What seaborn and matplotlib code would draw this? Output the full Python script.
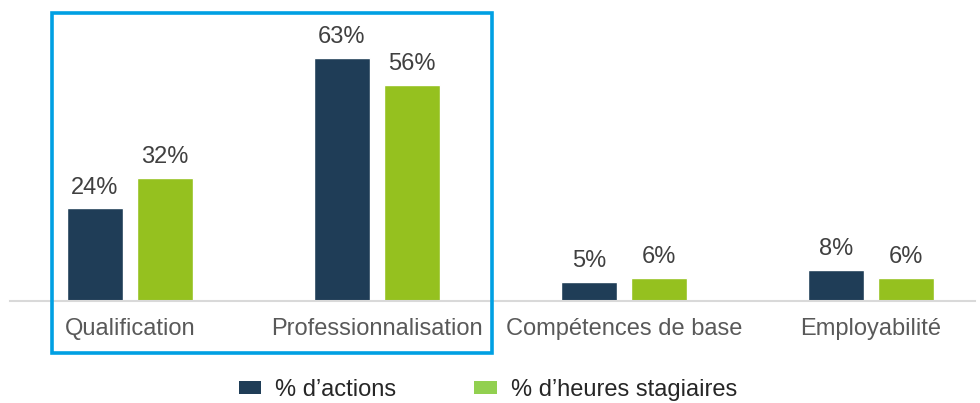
import pandas as pd
import matplotlib.pyplot as plt
import seaborn as sns
from matplotlib.patches import Rectangle, Patch

# Dati del grafico
categorie = ['Qualification', 'Professionnalisation', 'Compétences de base', 'Employabilité']
pct_actions = [24, 63, 5, 8]
pct_heures = [32, 56, 6, 6]
serie = ['% d\u2019actions', '% d\u2019heures stagiaires']

colori_barre = ['#1f3d57', '#95c11f']
colori_legenda = ['#1f3d57', '#92d050']

df = pd.DataFrame({
    'Categoria': categorie * 2,
    'Valore': pct_actions + pct_heures,
    'Serie': [serie[0]] * len(categorie) + [serie[1]] * len(categorie),
})

sns.set_style('white')
plt.rcParams['font.family'] = ['Liberation Sans', 'DejaVu Sans']

W, H = 980, 403
fig = plt.figure(figsize=(W / 100, H / 100), dpi=100)
# assi: linea di base a y=301 px, da x=10 a x=975
ax = fig.add_axes([10 / W, (H - 301) / H, 965 / W, 301 / H])

sns.barplot(data=df, x='Categoria', y='Valore', hue='Serie', palette=colori_barre,
            width=0.567, gap=0.21, ax=ax, legend=False, saturation=1)

ax.set_xlim((10 - 130) / 247, (975 - 130) / 247)
ax.set_ylim(0, 78)

# etichette dei valori
for cont in ax.containers:
    ax.bar_label(cont, labels=[f'{int(v)}%' for v in cont.datavalues],
                 padding=7, fontsize=17, color='#404040')

for s in ['top', 'right', 'left']:
    ax.spines[s].set_visible(False)
ax.spines['bottom'].set_color('#d9d9d9')
ax.spines['bottom'].set_linewidth(1.5)
ax.set_yticks([])
ax.set_xlabel('')
ax.set_ylabel('')
ax.tick_params(axis='x', length=0, pad=12, labelsize=17, labelcolor='#595959')

# riquadro blu attorno alle prime due categorie
rett = Rectangle((52 / W, (H - 353) / H), (492 - 52) / W, (353 - 13) / H,
                 transform=fig.transFigure, fill=False, edgecolor='#00a0e3',
                 linewidth=2.6, clip_on=False)
fig.patches.append(rett)

# legenda in basso
handles = [Patch(facecolor=c, edgecolor='none') for c in colori_legenda]
fig.legend(handles, serie, loc='center', bbox_to_anchor=(488 / W, (H - 390) / H),
           ncol=2, frameon=False, fontsize=17, labelcolor='#262626',
           handlelength=0.95, handleheight=0.5, columnspacing=3.3, handletextpad=0.6)

fig.savefig('out.png', dpi=100)
